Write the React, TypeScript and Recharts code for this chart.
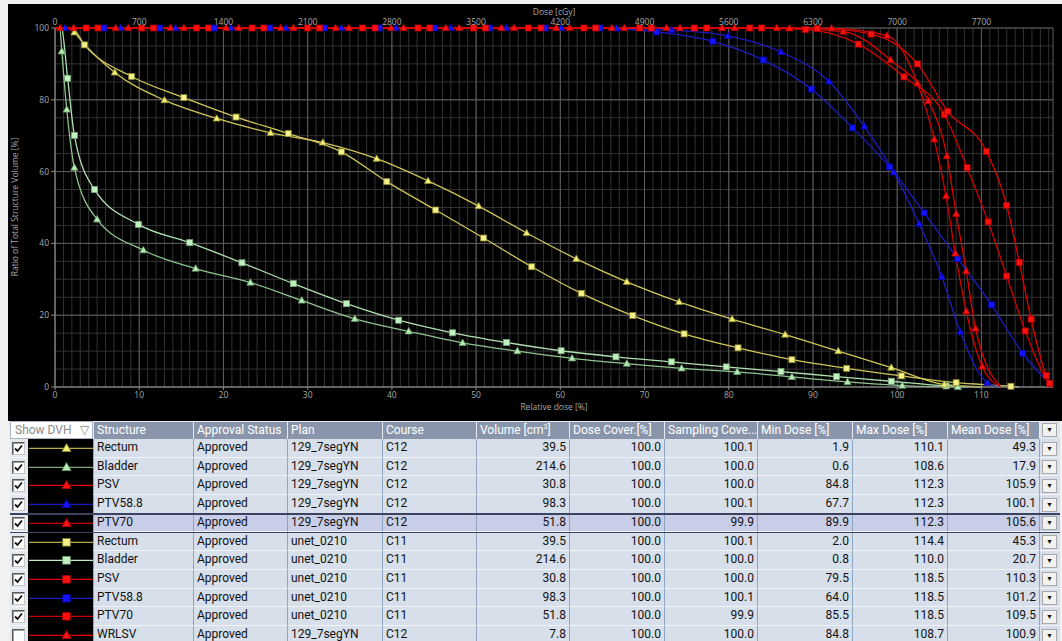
import React from 'react';
import { ComposedChart, Line, XAxis, YAxis, CartesianGrid } from 'recharts';

type Pt = [number, number];

// ---- axes ----
const X_MAX = 118.5; // highest max dose in the table
const BOTTOM_TICKS = [0, 10, 20, 30, 40, 50, 60, 70, 80, 90, 100, 110];
const LEFT_TICKS = [0, 20, 40, 60, 80, 100];
const CGY_PER_PERCENT = 70; // 100 % = 7000 cGy

// ---- DVH curves: [relative dose %, volume %] ----
const rectumC12: Pt[] = [
  [0, 100], [1.9, 100], [2.3, 98.8], [7.1, 87.6], [13, 79.9], [19.2, 74.8], [25.6, 70.8],
  [31.8, 68.1], [38.2, 63.6], [44.3, 57.4], [50.3, 50.4], [56, 42.9], [61.9, 35.7],
  [67.9, 29.3], [74.1, 23.7], [80.4, 18.9], [86.7, 14.6], [93, 10], [99.3, 5.4],
  [105.6, 0.7], [110.1, 0],
];
const bladderC12: Pt[] = [
  [0, 100], [0.6, 99.5], [0.8, 93.5], [1.4, 77.3], [2.3, 61.1], [5, 46.7], [10.5, 38.1],
  [16.7, 33], [23.2, 29.1], [29.3, 24.1], [35.6, 19], [42, 15.5], [48.4, 12.3], [54.9, 10],
  [61.4, 8], [67.9, 6.5], [74.4, 5.2], [81, 4.2], [87.5, 2.8], [94.1, 1.4], [100.6, 0.4],
  [107.2, 0], [108.6, 0],
];
const psvC12: Pt[] = [
  [0, 100], [2.2, 100], [8.7, 100], [15.3, 100], [21.8, 100], [28.3, 100], [34.9, 100],
  [41.4, 100], [48, 100], [54.5, 100], [61.1, 100], [67.6, 100], [74.2, 100], [80.7, 100],
  [87.2, 99.9], [93.6, 99], [99.2, 91.1], [103.7, 79.7], [105.9, 64.3], [107, 48.2],
  [108.2, 32.3], [109.3, 16.3], [112.3, 0],
];
const ptv588C12: Pt[] = [
  [0, 100], [1.2, 100], [7.8, 100], [14.3, 100], [20.9, 100], [27.4, 100], [34, 100],
  [40.5, 100], [47, 100], [53.6, 100], [60.1, 100], [66.7, 99.9], [73.2, 99.4], [79.9, 97.8],
  [86.2, 93.3], [91.9, 85.1], [96.1, 72.6], [99.6, 59.8], [102.6, 45.5], [105.3, 30.7],
  [107.5, 15.3], [110.7, 1.2], [112.3, 0],
];
const ptv70C12: Pt[] = [
  [0, 100], [0.6, 100], [7.2, 100], [13.7, 100], [20.3, 100], [26.8, 100], [33.3, 100],
  [39.9, 100], [46.4, 100], [53, 100], [59.5, 100], [66.1, 100], [72.6, 100], [79.2, 100],
  [85.7, 100], [92.2, 99.9], [98.8, 97.9], [102.4, 84.6], [104.4, 69], [105.8, 53.2],
  [106.9, 37.2], [108.2, 21.1], [110.1, 5.7], [112.3, 0],
];
const rectumC11: Pt[] = [
  [0, 100], [2, 100], [3.5, 95.3], [9.1, 86.5], [15.3, 80.6], [21.5, 75.2], [27.7, 70.6],
  [34, 65.5], [39.4, 57.2], [45.2, 49.3], [50.9, 41.5], [56.6, 33.5], [62.5, 26.1],
  [68.6, 19.9], [74.7, 14.8], [81.1, 10.9], [87.5, 7.6], [94, 5.2], [100.5, 3.1],
  [107, 1.2], [113.5, 0.2], [114.4, 0],
];
const bladderC11: Pt[] = [
  [0, 100], [0.8, 99.5], [1.5, 86], [2.3, 70.1], [4.7, 55], [9.9, 45.3], [16, 40.2],
  [22.2, 34.6], [28.3, 28.8], [34.6, 23.2], [40.8, 18.6], [47.2, 15.1], [53.6, 12.4],
  [60.1, 10.1], [66.6, 8.4], [73.2, 7], [79.7, 5.6], [86.2, 4.3], [92.8, 2.9], [99.3, 1.6],
  [105.8, 0.3], [110, 0],
];
const psvC11: Pt[] = [
  [0, 100], [5.1, 100], [11.7, 100], [18.2, 100], [24.8, 100], [31.4, 100], [38, 100],
  [44.5, 100], [51.1, 100], [57.7, 100], [64.2, 100], [70.8, 100], [77.4, 100], [83.9, 100],
  [90.5, 99.9], [96.9, 98.3], [102.4, 90], [106, 76.8], [110.6, 65.6], [113, 50.6],
  [114.5, 34.7], [115.9, 18.9], [117.7, 3.2], [118.5, 0],
];
const ptv588C11: Pt[] = [
  [0, 100], [5.8, 100], [12.4, 100], [18.9, 100], [25.5, 100], [32, 100], [38.5, 100],
  [45.1, 100], [51.6, 100], [58.2, 100], [64.7, 100], [71.4, 98.9], [78.1, 96.3],
  [84.1, 91.1], [89.8, 83], [94.7, 72.2], [99.1, 61.3], [103.2, 48.5], [107.2, 35.7],
  [111.2, 22.9], [114.9, 9.4], [118.5, 0],
];
const ptv70C11: Pt[] = [
  [0, 100], [3.7, 100], [10.3, 100], [16.8, 100], [23.4, 100], [30, 100], [36.5, 100],
  [43.1, 100], [49.7, 100], [56.2, 100], [62.8, 100], [69.4, 100], [75.9, 100], [82.5, 100],
  [89.1, 99.6], [95.4, 95.5], [100.8, 86.4], [105.6, 75.9], [108.3, 61.1], [110.8, 46],
  [113, 30.9], [115.2, 15.6], [118.1, 1], [118.5, 0],
];

// ---- table columns ----
const STRUCTURES = ['Rectum', 'Bladder', 'PSV', 'PTV58.8', 'PTV70', 'Rectum', 'Bladder', 'PSV', 'PTV58.8', 'PTV70', 'WRLSV'];
const APPROVAL = ['Approved', 'Approved', 'Approved', 'Approved', 'Approved', 'Approved', 'Approved', 'Approved', 'Approved', 'Approved', 'Approved'];
const PLANS = ['129_7segYN', '129_7segYN', '129_7segYN', '129_7segYN', '129_7segYN', 'unet_0210', 'unet_0210', 'unet_0210', 'unet_0210', 'unet_0210', '129_7segYN'];
const COURSES = ['C12', 'C12', 'C12', 'C12', 'C12', 'C11', 'C11', 'C11', 'C11', 'C11', 'C12'];
const VOLUMES = [39.5, 214.6, 30.8, 98.3, 51.8, 39.5, 214.6, 30.8, 98.3, 51.8, 7.8];
const DOSE_COVER = [100.0, 100.0, 100.0, 100.0, 100.0, 100.0, 100.0, 100.0, 100.0, 100.0, 100.0];
const SAMPLING_COVER = [100.1, 100.0, 100.0, 100.1, 99.9, 100.1, 100.0, 100.0, 100.1, 99.9, 100.0];
const MIN_DOSE = [1.9, 0.6, 84.8, 67.7, 89.9, 2.0, 0.8, 79.5, 64.0, 85.5, 84.8];
const MAX_DOSE = [110.1, 108.6, 112.3, 112.3, 112.3, 114.4, 110.0, 118.5, 118.5, 118.5, 108.7];
const MEAN_DOSE = [49.3, 17.9, 105.9, 100.1, 105.6, 45.3, 20.7, 110.3, 101.2, 109.5, 100.9];
const SHOWN = [true, true, true, true, true, true, true, true, true, true, false];

// ---- styles ----
type Shape = 'tri' | 'sq';
interface Look { line: string; fill: string; edge: string; shape: Shape }
const LOOKS: Record<string, Look> = {
  rectumC12: { line: '#cfc65a', fill: '#f2ee78', edge: '#8f8a30', shape: 'tri' },
  bladderC12: { line: '#8fc48f', fill: '#b4ecb4', edge: '#6a9a6a', shape: 'tri' },
  psvC12: { line: '#e00000', fill: '#ff1010', edge: '#b00000', shape: 'tri' },
  ptv588C12: { line: '#1c1cc4', fill: '#1414ff', edge: '#0000a0', shape: 'tri' },
  ptv70C12: { line: '#d40000', fill: '#ff1010', edge: '#b00000', shape: 'tri' },
  rectumC11: { line: '#cfc65a', fill: '#f4f08a', edge: '#8f8a30', shape: 'sq' },
  bladderC11: { line: '#b0e0b0', fill: '#c2f2c2', edge: '#7aa87a', shape: 'sq' },
  psvC11: { line: '#e00000', fill: '#ff1010', edge: '#b00000', shape: 'sq' },
  ptv588C11: { line: '#1c1cc4', fill: '#1414ff', edge: '#0000a0', shape: 'sq' },
  ptv70C11: { line: '#d40000', fill: '#ff1010', edge: '#b00000', shape: 'sq' },
  wrlsv: { line: '#e00000', fill: '#ff1010', edge: '#b00000', shape: 'tri' },
};
const LEGEND_LINE = ['#b2aa44', '#7fa57a', '#e00000', '#1c1cc4', '#c80000', '#b2aa44', '#c4ecc4', '#e00000', '#1c1cc4', '#c80000', '#e00000'];
const ROW_LOOK = ['rectumC12', 'bladderC12', 'psvC12', 'ptv588C12', 'ptv70C12', 'rectumC11', 'bladderC11', 'psvC11', 'ptv588C11', 'ptv70C11', 'wrlsv'];

// lead / tail: how many points at each end are plain curve vertices without a marker
interface Series { key: string; pts: Pt[]; lead: number; tail: number }
const SERIES: Series[] = [
  { key: 'bladderC11', pts: bladderC11, lead: 2, tail: 1 },
  { key: 'bladderC12', pts: bladderC12, lead: 2, tail: 1 },
  { key: 'rectumC11', pts: rectumC11, lead: 2, tail: 1 },
  { key: 'rectumC12', pts: rectumC12, lead: 2, tail: 1 },
  { key: 'ptv588C11', pts: ptv588C11, lead: 1, tail: 1 },
  { key: 'ptv588C12', pts: ptv588C12, lead: 1, tail: 1 },
  { key: 'ptv70C11', pts: ptv70C11, lead: 1, tail: 1 },
  { key: 'psvC11', pts: psvC11, lead: 1, tail: 1 },
  { key: 'ptv70C12', pts: ptv70C12, lead: 1, tail: 1 },
  { key: 'psvC12', pts: psvC12, lead: 1, tail: 1 },
];

const MINOR_X: number[] = Array.from({ length: 119 }, (_, i) => i);
const MAJOR_X: number[] = [...BOTTOM_TICKS, X_MAX];
const MINOR_Y: number[] = Array.from({ length: 21 }, (_, i) => i * 5);
const MAJOR_Y: number[] = LEFT_TICKS;

const TICK_STYLE = { fill: '#a8a8a8', fontSize: 8.5, fontFamily: 'Open Sans, sans-serif' };

function Marker({ look, x, y, s = 1 }: { look: Look; x: number; y: number; s?: number }) {
  if (look.shape === 'sq') {
    const h = 3 * s;
    return <rect x={x - h} y={y - h} width={2 * h} height={2 * h} fill={look.fill} stroke={look.edge} strokeWidth={0.8} />;
  }
  const w = 3.6 * s;
  const p = `${x},${y - 3.8 * s} ${x + w},${y + 2.6 * s} ${x - w},${y + 2.6 * s}`;
  return <polygon points={p} fill={look.fill} stroke={look.edge} strokeWidth={0.8} />;
}

const toRows = (pts: Pt[]) => pts.map(([d, v]) => ({ d, v }));

function DvhChart() {
  return (
    <ComposedChart width={1054} height={417} margin={{ top: 4, right: 9, bottom: 14, left: 17 }}>
      <CartesianGrid
        xAxisId="bottom"
        yAxisId="left"
        stroke="#333333"
        strokeWidth={1}
        verticalCoordinatesGenerator={({ offset }: any) => MINOR_X.map((v) => offset.left + (offset.width * v) / X_MAX)}
        horizontalCoordinatesGenerator={({ offset }: any) => MINOR_Y.map((v) => offset.top + offset.height * (1 - v / 100))}
      />
      <CartesianGrid
        xAxisId="bottom"
        yAxisId="left"
        stroke="#5e5e5e"
        strokeWidth={1}
        verticalCoordinatesGenerator={({ offset }: any) => MAJOR_X.map((v) => offset.left + (offset.width * v) / X_MAX)}
        horizontalCoordinatesGenerator={({ offset }: any) => MAJOR_Y.map((v) => offset.top + offset.height * (1 - v / 100))}
      />
      <XAxis
        xAxisId="bottom"
        type="number"
        dataKey="d"
        domain={[0, X_MAX]}
        ticks={BOTTOM_TICKS}
        interval={0}
        allowDataOverflow
        height={20}
        tickSize={3}
        tickMargin={2}
        stroke="#8a8a8a"
        tick={TICK_STYLE}
      />
      <XAxis
        xAxisId="top"
        orientation="top"
        type="number"
        dataKey="d"
        domain={[0, X_MAX]}
        ticks={BOTTOM_TICKS}
        interval={0}
        allowDataOverflow
        height={20}
        tickSize={0}
        tickMargin={3}
        axisLine={false}
        tickFormatter={(v: number) => String(Math.round(v * CGY_PER_PERCENT))}
        tick={TICK_STYLE}
      />
      <YAxis
        yAxisId="left"
        type="number"
        domain={[0, 100]}
        ticks={LEFT_TICKS}
        interval={0}
        width={30}
        tickSize={4}
        tickMargin={2}
        stroke="#8a8a8a"
        tick={TICK_STYLE}
      />
      <Line
        xAxisId="top"
        yAxisId="left"
        data={toRows([[0, 100], [X_MAX, 100]])}
        dataKey="v"
        stroke="none"
        dot={false}
        activeDot={false}
        isAnimationActive={false}
      />
      {SERIES.map((s) => {
        const look = LOOKS[s.key];
        const n = s.pts.length;
        return (
          <Line
            key={s.key}
            xAxisId="bottom"
            yAxisId="left"
            data={toRows(s.pts)}
            dataKey="v"
            type="monotone"
            stroke={look.line}
            strokeWidth={1.3}
            activeDot={false}
            isAnimationActive={false}
            dot={(p: any) => {
              const k = `${s.key}-${p.index}`;
              if (p.index < s.lead || p.index >= n - s.tail || p.cx == null) return <g key={k} />;
              return (
                <g key={k}>
                  <Marker look={look} x={p.cx} y={p.cy} />
                </g>
              );
            }}
          />
        );
      })}
    </ComposedChart>
  );
}

// ---- table layout ----
const COL_X = [10, 28, 93, 193, 287, 382, 476, 569, 664, 757, 852, 947, 1039, 1060];
const HEAD_TOP = 421;
const HEAD_H = 18;
const ROW_TOP = 439;
const ROW_H = 18.7;
const TABLE_FONT = 'Roboto, "Noto Sans", sans-serif';

function Check({ on }: { on: boolean }) {
  return (
    <div
      style={{
        position: 'absolute',
        left: 2,
        top: 3,
        width: 11,
        height: 11,
        background: '#ffffff',
        borderTop: '1px solid #5a5a5a',
        borderLeft: '1px solid #5a5a5a',
        borderRight: '1px solid #c8c8c8',
        borderBottom: '1px solid #c8c8c8',
        boxShadow: 'inset 1px 1px 0 #a0a0a0',
      }}
    >
      {on && (
        <svg width={11} height={11} style={{ position: 'absolute', left: 0, top: 0 }}>
          <path d="M2 5.5 L4.5 8 L9 2.5" fill="none" stroke="#111" strokeWidth={1.8} />
        </svg>
      )}
    </div>
  );
}

function DropButton({ top }: { top: number }) {
  return (
    <div
      style={{
        position: 'absolute',
        left: COL_X[12] + 3,
        top,
        width: 15,
        height: 14,
        background: '#f2f2f2',
        border: '1px solid #a8a8a8',
        boxSizing: 'border-box',
        fontSize: 7,
        lineHeight: '12px',
        textAlign: 'center',
        color: '#111',
      }}
    >
      ▼
    </div>
  );
}

function DvhTable() {
  const heads: React.ReactNode[] = [
    'Structure',
    'Approval Status',
    'Plan',
    'Course',
    <span key="v">Volume [cm<sup style={{ fontSize: 7, verticalAlign: 'top', lineHeight: '10px' }}>3</sup>]</span>,
    'Dose Cover.[%]',
    'Sampling Cove...',
    'Min Dose [%]',
    'Max Dose [%]',
    'Mean Dose [%]',
  ];
  const cells: React.ReactNode[] = [];

  // header
  cells.push(
    <div
      key="showdvh"
      style={{
        position: 'absolute',
        left: COL_X[0],
        top: HEAD_TOP,
        width: COL_X[2] - COL_X[0],
        height: HEAD_H,
        background: '#ffffff',
        border: '1px solid #a9b3c2',
        boxSizing: 'border-box',
        color: '#8a8a8a',
        fontSize: 12,
        lineHeight: '16px',
        paddingLeft: 4,
      }}
    >
      Show DVH
      <span style={{ position: 'absolute', right: 3, top: 0, fontSize: 12, color: '#8a8a8a' }}>▽</span>
    </div>
  );
  heads.forEach((h, i) => {
    const c = i + 2;
    cells.push(
      <div
        key={`h${i}`}
        style={{
          position: 'absolute',
          left: COL_X[c],
          top: HEAD_TOP,
          width: COL_X[c + 1] - COL_X[c],
          height: HEAD_H,
          background: '#8995aa',
          borderLeft: '1px solid #e6eaf0',
          borderTop: '1px solid #e6eaf0',
          boxSizing: 'border-box',
          color: '#ffffff',
          fontSize: 12,
          lineHeight: '16px',
          paddingLeft: 3,
          whiteSpace: 'nowrap',
          overflow: 'hidden',
        }}
      >
        {h}
      </div>
    );
  });
  cells.push(
    <div
      key="hbtn"
      style={{
        position: 'absolute',
        left: COL_X[12],
        top: HEAD_TOP,
        width: COL_X[13] - COL_X[12],
        height: HEAD_H,
        background: '#dfe6ee',
        borderLeft: '1px solid #e6eaf0',
        boxSizing: 'border-box',
      }}
    />
  );
  cells.push(<DropButton key="hbtnb" top={HEAD_TOP + 2} />);

  // rows
  STRUCTURES.forEach((name, r) => {
    const top = ROW_TOP + r * ROW_H;
    const selected = r === 4;
    const bg = selected ? '#c8cee8' : '#d6dfea';
    const look = LOOKS[ROW_LOOK[r]];
    const values: string[] = [
      name,
      APPROVAL[r],
      PLANS[r],
      COURSES[r],
      VOLUMES[r].toFixed(1),
      DOSE_COVER[r].toFixed(1),
      SAMPLING_COVER[r].toFixed(1),
      MIN_DOSE[r].toFixed(1),
      MAX_DOSE[r].toFixed(1),
      MEAN_DOSE[r].toFixed(1),
    ];
    // checkbox cell
    cells.push(
      <div
        key={`cb${r}`}
        style={{
          position: 'absolute',
          left: COL_X[0],
          top,
          width: COL_X[1] - COL_X[0],
          height: ROW_H,
          background: '#e4e9f0',
          boxSizing: 'border-box',
          borderBottom: '1px solid #f4f6f9',
        }}
      >
        <Check on={SHOWN[r]} />
      </div>
    );
    // line preview cell
    const pw = COL_X[2] - COL_X[1];
    cells.push(
      <svg
        key={`pv${r}`}
        width={pw}
        height={ROW_H}
        style={{ position: 'absolute', left: COL_X[1], top, background: '#000000', display: 'block' }}
      >
        <line x1={1} x2={pw} y1={ROW_H / 2} y2={ROW_H / 2} stroke={LEGEND_LINE[r]} strokeWidth={1.4} />
        <Marker look={look} x={38.5} y={ROW_H / 2} s={1.25} />
      </svg>
    );
    values.forEach((v, i) => {
      const c = i + 2;
      const numeric = i >= 4;
      cells.push(
        <div
          key={`c${r}-${i}`}
          style={{
            position: 'absolute',
            left: COL_X[c],
            top,
            width: COL_X[c + 1] - COL_X[c],
            height: ROW_H,
            background: bg,
            borderLeft: '1px solid #8da5c3',
            borderBottom: '1px solid #f0f3f7',
            boxSizing: 'border-box',
            color: '#111111',
            fontSize: 12,
            lineHeight: `${ROW_H - 1}px`,
            paddingLeft: numeric ? 0 : 3,
            paddingRight: numeric ? 3 : 0,
            textAlign: numeric ? 'right' : 'left',
            whiteSpace: 'nowrap',
            overflow: 'hidden',
          }}
        >
          {v}
        </div>
      );
    });
    cells.push(
      <div
        key={`bt${r}`}
        style={{
          position: 'absolute',
          left: COL_X[12],
          top,
          width: COL_X[13] - COL_X[12],
          height: ROW_H,
          background: bg,
          borderLeft: '1px solid #8da5c3',
          borderBottom: '1px solid #f0f3f7',
          boxSizing: 'border-box',
        }}
      />
    );
    cells.push(<DropButton key={`btb${r}`} top={top + 2.5} />);
    if (selected) {
      cells.push(
        <div key="selTop" style={{ position: 'absolute', left: COL_X[0], top: top - 1, width: COL_X[13] - COL_X[0], height: 2, background: '#3b4360' }} />
      );
      cells.push(
        <div key="selBot" style={{ position: 'absolute', left: COL_X[0], top: top + ROW_H - 1, width: COL_X[13] - COL_X[0], height: 2, background: '#3b4360' }} />
      );
    }
  });
  return <>{cells}</>;
}

const TITLE_STYLE: React.CSSProperties = {
  position: 'absolute',
  color: '#a8a8a8',
  fontSize: 8.5,
  fontFamily: 'Open Sans, sans-serif',
  whiteSpace: 'nowrap',
  textAlign: 'center',
  lineHeight: '10px',
};

export default function App() {
  return (
    <div
      style={{
        position: 'absolute',
        left: 0,
        top: 0,
        width: 1062,
        height: 641,
        overflow: 'hidden',
        background: '#f1f1f1',
        fontFamily: TABLE_FONT,
      }}
    >
      <div style={{ position: 'absolute', left: 8, top: 4, width: 1054, height: 417, background: '#000000' }}>
        <DvhChart />
        <div style={{ ...TITLE_STYLE, left: 546 - 100, top: 3, width: 200 }}>Dose [cGy]</div>
        <div style={{ ...TITLE_STYLE, left: 546 - 100, top: 398, width: 200 }}>Relative dose [%]</div>
        <div
          style={{
            ...TITLE_STYLE,
            left: 7 - 120,
            top: 203 - 5,
            width: 240,
            transform: 'rotate(-90deg)',
            transformOrigin: '120px 5px',
          }}
        >
          Ratio of Total Structure Volume [%]
        </div>
      </div>
      <DvhTable />
    </div>
  );
}
